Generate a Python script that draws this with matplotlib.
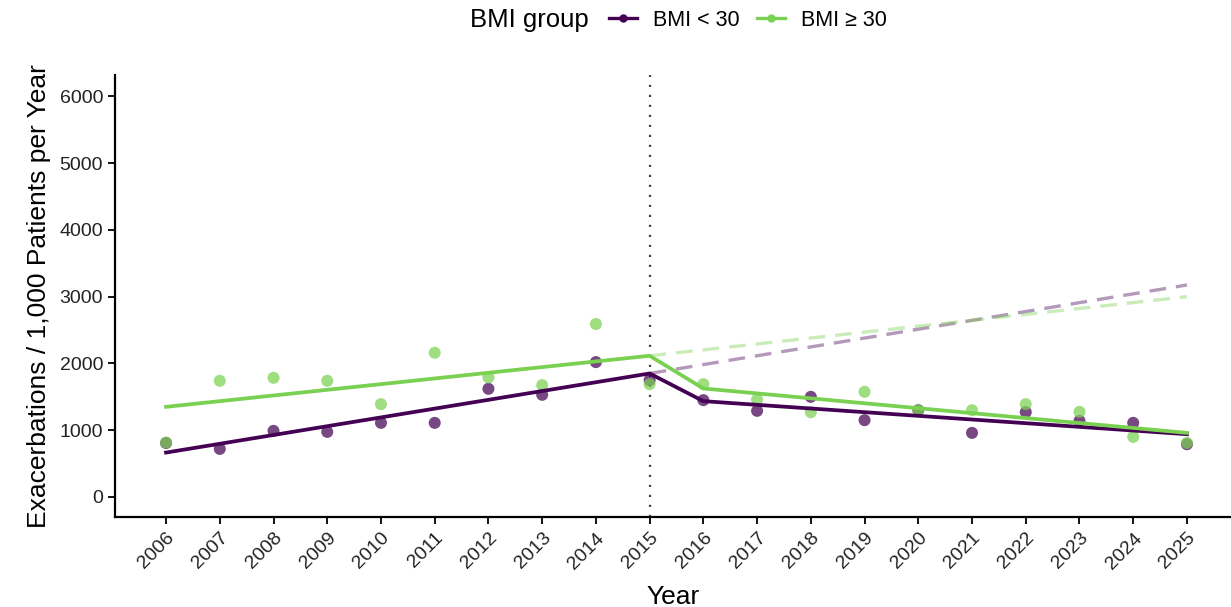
import matplotlib
matplotlib.use("Agg")
import matplotlib.pyplot as plt
from matplotlib.lines import Line2D

plt.rcParams['font.family'] = ['Liberation Sans', 'DejaVu Sans']

years = list(range(2006, 2026))
bmi_lt30 = [808, 720, 990, 975, 1110, 1110, 1620, 1530, 2020, 1750,
            1450, 1290, 1500, 1150, 1300, 960, 1270, 1140, 1110, 790]
bmi_ge30 = [815, 1740, 1785, 1740, 1390, 2160, 1790, 1675, 2590, 1690,
            1690, 1460, 1270, 1575, 1300, 1300, 1390, 1275, 900, 810]

fit_years = [2006, 2015, 2016, 2025]
fit_lt30 = [665, 1850, 1435, 940]
fit_ge30 = [1350, 2115, 1625, 960]

cf_years = [2015, 2025]
cf_lt30 = [1850, 3175]
cf_ge30 = [2115, 3000]

intervention_year = 2015
col_lt30 = '#440154'
col_ge30 = '#7AD151'
yticks = [0, 1000, 2000, 3000, 4000, 5000, 6000]

fig = plt.figure(figsize=(12.31, 6.07), dpi=100)
ax = fig.add_axes([115/1231, 90/607, 1 - 115/1231, (517-75)/607])

ax.axvline(intervention_year, color='#444444', linestyle=(0, (1, 3.5)), linewidth=1.6, zorder=1)

ax.plot(cf_years, cf_lt30, color=col_lt30, alpha=0.4, linestyle=(0, (5, 3)), linewidth=2.4, zorder=2)
ax.plot(cf_years, cf_ge30, color=col_ge30, alpha=0.4, linestyle=(0, (5, 3)), linewidth=2.4, zorder=2)

ax.scatter(years, bmi_lt30, s=75, color=col_lt30, alpha=0.72, edgecolors='none', zorder=3)
ax.scatter(years, bmi_ge30, s=75, color=col_ge30, alpha=0.72, edgecolors='none', zorder=3)

ax.plot(fit_years, fit_lt30, color=col_lt30, linewidth=2.7, zorder=4)
ax.plot(fit_years, fit_ge30, color=col_ge30, linewidth=2.7, zorder=4)

ax.set_xlim(2005.05, 2025.82)
ax.set_ylim(-300, 6320)
ax.set_xticks(years)
ax.set_xticklabels([str(y) for y in years], rotation=45, ha='right', va='top',
                   rotation_mode='anchor', fontsize=14, color='#222222')
ax.set_yticks(yticks)
ax.set_yticklabels([str(v) for v in yticks], fontsize=14, color='#222222')
ax.tick_params(axis='both', direction='out', length=5, width=1.3, color='black')
ax.tick_params(axis='x', pad=4)
for s in ['top', 'right']:
    ax.spines[s].set_visible(False)
for s in ['left', 'bottom']:
    ax.spines[s].set_linewidth(1.6)
ax.set_xlabel('Year', fontsize=19, labelpad=9)
ax.set_ylabel('Exacerbations / 1,000 Patients per Year', fontsize=19, labelpad=6)

fig.text(470/1231, 1 - 20/607, 'BMI group', fontsize=18.5, ha='left', va='center')
handles = [Line2D([], [], color=col_lt30, marker='o', markersize=5, linewidth=2.4),
           Line2D([], [], color=col_ge30, marker='o', markersize=5, linewidth=2.4)]
fig.legend(handles, ['BMI < 30', 'BMI ≥ 30'], loc='center left',
           bbox_to_anchor=(609/1231, 1 - 20/607), ncol=2, frameon=False,
           fontsize=15.5, handlelength=1.3, handletextpad=0.75, columnspacing=0.8,
           borderpad=0, borderaxespad=0)

fig.savefig('out.png', dpi=100)
